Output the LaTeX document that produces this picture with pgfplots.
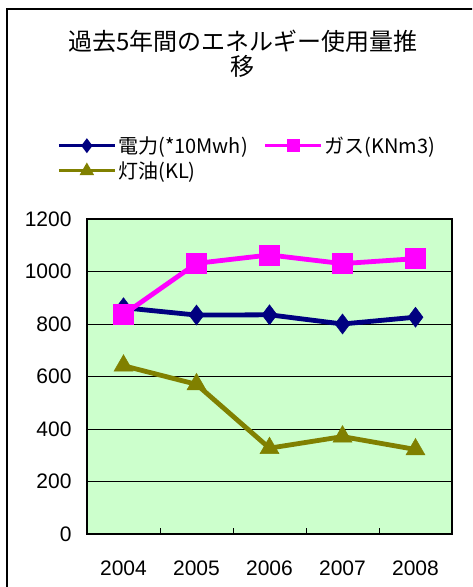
\documentclass[border=0pt]{standalone}
\usepackage{pgfplots}
\pgfplotsset{compat=1.18}
\usepackage{fontspec}
\setmainfont{Noto Sans CJK JP}
\newfontfamily\numfont{Liberation Sans}

\definecolor{elec}{HTML}{000080}
\definecolor{gas}{HTML}{FF00FF}
\definecolor{oil}{HTML}{808000}
\definecolor{bg}{HTML}{CCFFCC}

\begin{document}
\begin{tikzpicture}
\useasboundingbox (0pt,0pt) rectangle (472pt,587pt);
\begin{scope}
\clip (0pt,0pt) rectangle (472pt,587pt);
\draw[line width=1.2pt] (7pt,-20pt) -- (7pt,578pt) -- (490pt,578pt);
\end{scope}
\node[font=\fontsize{24}{25}\selectfont, align=center] at (243pt,533pt) {過去5年間のエネルギー使用量推\\移};

\begin{axis}[
  at={(87pt,53pt)}, anchor=south west,
  width=365pt, height=315pt,
  scale only axis,
  xmin=-0.5, xmax=4.5,
  ymin=0, ymax=1200,
  ytick={0,200,...,1200},
  xtick={0,...,4},
  xticklabels={2004,2005,2006,2007,2008},
  minor xtick={0.5,1.5,2.5,3.5},
  major tick length=0pt,
  minor tick length=6pt,
  tick align=inside,
  xtick pos=lower, ytick pos=left,
  ymajorgrids=true,
  grid style={black, line width=0.6pt},
  minor tick style={black, line width=0.6pt},
  axis line style={line width=2pt},
  axis background/.style={fill=bg},
  tick label style={font=\numfont\fontsize{21}{22}\selectfont},
  /pgf/number format/assume math mode=true,
  /pgf/number format/1000 sep={},
  yticklabel style={xshift=-12pt},
  xticklabel style={yshift=-23pt},
  legend columns=2,
  legend style={at={(-0.09,1.275)}, anchor=north west, draw=none, fill=none,
    font=\fontsize{20}{22}\selectfont, row sep=3pt,
    /tikz/every even column/.append style={column sep=14pt}},
  legend cell align=left,
  legend image code/.code={
    \draw[line width=3pt, mark repeat=2, mark phase=2, mark options={scale=0.5}]
      plot coordinates {(0pt,0pt) (28pt,0pt) (56pt,0pt)};},
]
\addplot[elec, line width=4.8pt, mark=diamond*, mark size=10pt, mark options={line width=0.5pt}]
  coordinates {(0,862) (1,834) (2,835) (3,800) (4,826)};
\addlegendentry{電力(*10Mwh)}
\addplot[gas, line width=4.8pt, mark=square*, mark size=10pt, mark options={line width=0.5pt}]
  coordinates {(0,836) (1,1031) (2,1063) (3,1030) (4,1049)};
\addlegendentry{ガス(KNm3)}
\addplot[oil, line width=4.8pt, mark=triangle*, mark size=11pt, mark options={line width=0.5pt}]
  coordinates {(0,641) (1,570) (2,327) (3,371) (4,322)};
\addlegendentry{灯油(KL)}
\end{axis}
\end{tikzpicture}
\end{document}
